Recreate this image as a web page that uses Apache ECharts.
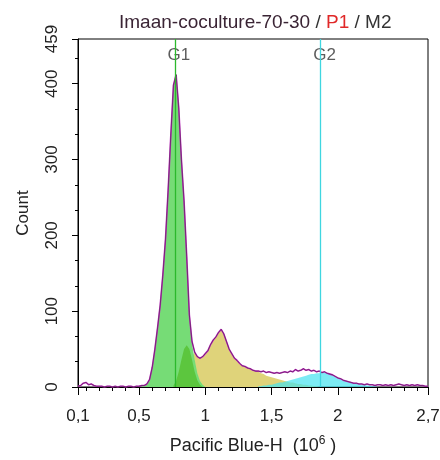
<!DOCTYPE html>
<html>
<head>
<meta charset="utf-8">
<script src="https://cdn.jsdelivr.net/npm/echarts@6/dist/echarts.min.js"></script>
<style>
html, body { margin: 0; padding: 0; background: #fff; }
#main { width: 440px; height: 460px; }
</style>
</head>
<body>
<div id="main"></div>
<script>
// histogram bins
var binStart = 0.04;
var binStep = 0.02;
// raw counts, one per bin from 0.04 to 2.68
var totalCounts = [
	1, 2, 5, 6, 3, 4, 2, 1, 1, 1,
	0, 1, 1, 0, 1, 0, 1, 1, 0, 1,
	1, 0, 1, 1, 2, 2, 4, 10, 26, 50,
	78, 108, 148, 195, 260, 332, 398, 412, 368, 300,
	245, 172, 95, 60, 46, 40, 38, 40, 44, 48,
	56, 62, 66, 72, 76, 70, 60, 50, 44, 38,
	35, 31, 28, 27, 25, 24, 22, 21, 21, 20,
	21, 19, 20, 19, 18, 19, 18, 19, 20, 19,
	21, 20, 23, 21, 22, 24, 22, 23, 21, 22,
	20, 21, 19, 20, 18, 17, 16, 14, 12, 11,
	9, 8, 7, 6, 5, 5, 4, 4, 3, 4,
	3, 3, 2, 3, 3, 2, 3, 2, 3, 2,
	3, 4, 3, 2, 3, 2, 3, 2, 3, 2,
	2, 1, 1
];
// fitted components (start value, counts per bin)
var g1Start = 0.52;
var g1Counts = [2, 2, 4, 10, 26, 50, 78, 108, 148, 195, 260, 332, 398, 412, 368, 300, 245, 172, 95, 58, 36, 18, 8, 3, 0];
var g1bStart = 0.76;
var g1bCounts = [2, 8, 20, 36, 50, 55, 50, 36, 20, 9, 3, 0];
var sStart = 0.80;
var sCounts = [0, 2, 5, 10, 20, 38, 46, 40, 38, 40, 44, 48, 56, 62, 66, 72, 76, 70, 60, 50,
	44, 38, 35, 31, 28, 27, 25, 24, 22, 21, 20, 18, 17, 15, 14, 13, 12, 11, 10, 9,
	8, 7, 6, 6, 5, 4, 4, 3, 3, 2, 2, 1, 1, 0];
var g2Start = 1.40;
var g2Counts = [1, 1, 2, 2, 3, 3, 4, 5, 6, 6, 7, 8, 9, 10, 11, 12, 13, 14, 15, 16,
	17, 17, 18, 18, 19, 19, 18, 17, 16, 14, 12, 11, 9, 8, 7, 6, 5, 4, 4, 3,
	3, 2, 2, 1, 1, 0];

// gates
var gateNames = ['G1', 'G2'];
var gateValues = [0.77, 1.87];
var gateColors = ['#2cb82c', '#3fd6e0'];

// axis
var xMin = 0.04, xMax = 2.68;
var xMajor = [0.04, 0.5, 1, 1.5, 2, 2.68];
var xMajorText = ['0,1', '0,5', '1', '1,5', '2', '2,7'];
var xMinor = [0.1, 0.2, 0.3, 0.4, 0.6, 0.7, 0.8, 0.9, 1.1, 1.2, 1.3, 1.4, 1.6, 1.7, 1.8, 1.9, 2.1, 2.2, 2.3, 2.4, 2.5, 2.6];
var yMax = 459;

function toPairs(start, counts) {
	var out = [];
	for (var i = 0; i < counts.length; i++) {
		out.push([+(start + i * binStep).toFixed(2), counts[i]]);
	}
	return out;
}

function areaSeries(name, data, color, opacity) {
	return {
		name: name,
		type: 'line',
		data: data,
		symbol: 'none',
		silent: true,
		lineStyle: { width: 0 },
		areaStyle: { color: color, opacity: opacity }
	};
}

var font = '"Liberation Sans", Arial, sans-serif';
var myChart = echarts.init(document.getElementById('main'));

var series = [
	areaSeries('S', toPairs(sStart, sCounts), '#dfd37a', 1),
	areaSeries('G2', toPairs(g2Start, g2Counts), '#45e3ef', 0.7),
	areaSeries('G1', toPairs(g1Start, g1Counts), '#76dc76', 1),
	areaSeries('G1b', toPairs(g1bStart, g1bCounts), '#5cc63e', 1),
	{
		name: 'fit',
		type: 'line',
		data: toPairs(binStart, totalCounts),
		symbol: 'none',
		silent: true,
		lineStyle: { color: '#c42cc4', width: 1.6 }
	},
	{
		name: 'raw',
		type: 'line',
		data: toPairs(binStart, totalCounts),
		symbol: 'none',
		silent: true,
		lineStyle: { color: '#222', width: 0.8, opacity: 0.6 }
	}
];

// gate lines and names
for (var k = 0; k < gateNames.length; k++) {
	series.push({
		name: gateNames[k],
		type: 'scatter',
		data: [[gateValues[k], 437]],
		symbolSize: 0,
		silent: true,
		label: {
			show: true,
			position: 'inside',
			offset: [4, 0],
			formatter: gateNames[k],
			fontFamily: font,
			fontSize: 17,
			color: '#333'
		},
		markLine: {
			silent: true,
			symbol: 'none',
			label: { show: false },
			lineStyle: { color: gateColors[k], width: 1.3, type: 'solid' },
			data: [{ xAxis: gateValues[k] }]
		}
	});
}

option = {
	animation: false,
	title: {
		left: 114,
		top: 8,
		text: '{a|Imaan-coculture-70-30}{s| / }{r|P1}{s| / M2}',
		textStyle: {
			fontWeight: 'normal',
			rich: {
				a: { fontFamily: font, fontSize: 19, fontWeight: 'normal', color: '#3a2434' },
				s: { fontFamily: font, fontSize: 19, fontWeight: 'normal', color: '#333' },
				r: { fontFamily: font, fontSize: 19, fontWeight: 'normal', color: '#e02828' }
			}
		}
	},
	grid: {
		left: 78,
		right: 12,
		top: 39,
		bottom: 73,
		outerBoundsMode: 'none',
		show: true,
		borderColor: '#000',
		borderWidth: 1
	},
	xAxis: [{
		type: 'value',
		min: xMin,
		max: xMax,
		name: 'Pacific Blue-H  (10{sup|6} )',
		nameLocation: 'middle',
		nameGap: 48,
		nameTextStyle: {
			fontFamily: font,
			fontSize: 18,
			color: '#222',
			rich: { sup: { fontSize: 12, verticalAlign: 'top', padding: [0, 0, 10, 0], color: '#222' } }
		},
		axisLine: { lineStyle: { color: '#000', width: 1 } },
		axisTick: { show: true, length: 8, customValues: xMajor, lineStyle: { color: '#000' } },
		axisLabel: {
			customValues: xMajor,
			margin: 21,
			fontFamily: font,
			fontSize: 17,
			color: '#222',
			formatter: function(v) {
				for (var i = 0; i < xMajor.length; i++) {
					if (Math.abs(xMajor[i] - v) < 1e-6) return xMajorText[i];
				}
				return '';
			}
		},
		splitLine: { show: false }
	}, {
		type: 'value',
		min: xMin,
		max: xMax,
		position: 'bottom',
		axisLine: { show: false },
		axisTick: { show: true, length: 4, customValues: xMinor, lineStyle: { color: '#000' } },
		axisLabel: { show: false },
		splitLine: { show: false }
	}],
	yAxis: {
		type: 'value',
		min: 0,
		max: yMax,
		interval: 100,
		name: 'Count',
		nameLocation: 'middle',
		nameGap: 46,
		nameTextStyle: { fontFamily: font, fontSize: 17, color: '#222' },
		axisLine: { show: true, lineStyle: { color: '#000', width: 1 } },
		axisTick: { show: true, length: 6, lineStyle: { color: '#000' } },
		minorTick: { show: true, splitNumber: 3, length: 3, lineStyle: { color: '#000' } },
		axisLabel: {
			rotate: 90,
			margin: 17,
			fontFamily: font,
			fontSize: 17,
			color: '#222'
		},
		splitLine: { show: false },
		minorSplitLine: { show: false }
	},
	series: series
};

myChart.setOption(option);
</script>
</body>
</html>
